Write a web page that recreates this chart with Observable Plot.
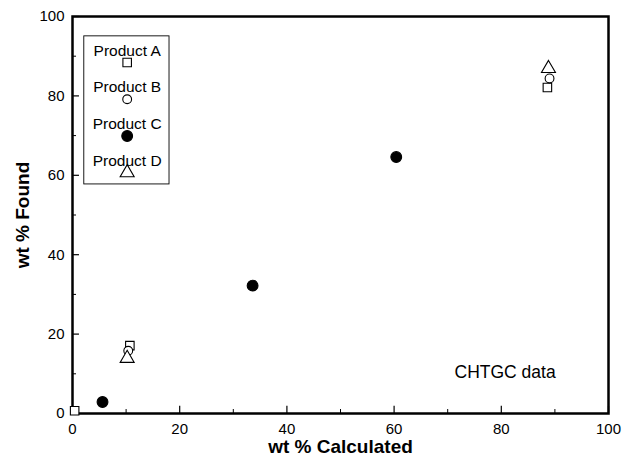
<!DOCTYPE html>
<html><head><meta charset="utf-8">
<script src="https://cdn.jsdelivr.net/npm/d3@7"></script>
<script src="https://cdn.jsdelivr.net/npm/@observablehq/plot@0.6"></script>
<style>body{margin:0;background:#fff}</style>
</head><body><div id="chart"></div>
<script>
// Data (wt % Calculated, wt % Found)
const productA = [[0.4, 0.7], [10.7, 17.1], [88.6, 82.1]];
const productB = [[10.4, 15.8], [89.0, 84.4]];
const productC = [[5.6, 2.9], [33.6, 32.2], [60.4, 64.6]];
const productD = [[10.2, 13.9], [88.8, 86.9]];
const legendLabels = ["Product A", "Product B", "Product C", "Product D"];
const xTicks = [0, 20, 40, 60, 80, 100];
const yTicks = [0, 20, 40, 60, 80, 100];
const minorTicks = [10, 30, 50, 70, 90];
const xLabel = "wt % Calculated";
const yLabel = "wt % Found";
const note = "CHTGC data";

const pts = (arr) => arr.map(([x, y]) => ({x, y}));
const symbols = ["square", "circle", "circle", "triangle"];
const fills = ["white", "white", "black", "white"];
const radii = [4.8, 4.4, 5.4, 5.2];

// legend layout (in data units of the plot frame)
const lgX = 10.2, lgTop = 91.4, lgStep = 9.25, lgSym = 3.0;

const marks = [
  Plot.frame({stroke: "black", strokeWidth: 2.5}),
  Plot.ruleX(xTicks, {x: d => d, y1: 0, y2: 1.8, stroke: "black", strokeWidth: 1.2}),
  Plot.ruleX(minorTicks, {x: d => d, y1: 0, y2: 1.0, stroke: "black", strokeWidth: 1}),
  Plot.ruleY(yTicks, {y: d => d, x1: 0, x2: 1.3, stroke: "black", strokeWidth: 1.2}),
  Plot.ruleY(minorTicks, {y: d => d, x1: 0, x2: 0.75, stroke: "black", strokeWidth: 1}),
  // legend box
  Plot.rect([0], {x1: () => 2.2, x2: () => 18.1, y1: () => 57.7, y2: () => 95, stroke: "black", strokeWidth: 0.9, fill: "none"}),
  Plot.text(legendLabels, {x: () => lgX, y: (d, i) => lgTop - i * lgStep, text: d => d, fontSize: 15.5, fill: "black"}),
];
legendLabels.forEach((label, i) => {
  marks.push(Plot.dot([label], {x: () => lgX, y: () => lgTop - i * lgStep - lgSym,
    symbol: () => symbols[i], fill: fills[i], r: radii[i], stroke: "black", strokeWidth: 1.1}));
});
[productA, productB, productC, productD].forEach((arr, i) => {
  marks.push(Plot.dot(pts(arr), {x: "x", y: "y", symbol: () => symbols[i], fill: fills[i], r: radii[i], stroke: "black", strokeWidth: 1.1}));
});
marks.push(
  Plot.text([note], {x: () => 80.7, y: () => 10.3, text: d => d, fontSize: 17.5, fill: "black"}),
  Plot.text([xLabel], {frameAnchor: "bottom", dy: 39, text: d => d, fontSize: 19, fontWeight: "bold", fill: "black"}),
  Plot.text([yLabel], {frameAnchor: "left", dx: -50, rotate: -90, textAnchor: "middle", text: d => d, fontSize: 19, fontWeight: "bold", fill: "black"})
);

const chart = Plot.plot({
  width: 623, height: 462,
  marginLeft: 72, marginRight: 15, marginTop: 16, marginBottom: 49,
  style: {fontFamily: "'Liberation Sans', Arial, sans-serif", fontSize: "15px", background: "white", color: "black"},
  x: {domain: [0, 100], ticks: xTicks, tickSize: 0, tickPadding: 10, label: null, tickFormat: d => String(d)},
  y: {domain: [0, 100], ticks: yTicks, tickSize: 0, tickPadding: 8, label: null, tickFormat: d => String(d)},
  symbol: {type: "identity"},
  marks
});
document.getElementById("chart").appendChild(chart);
</script>
</body></html>
